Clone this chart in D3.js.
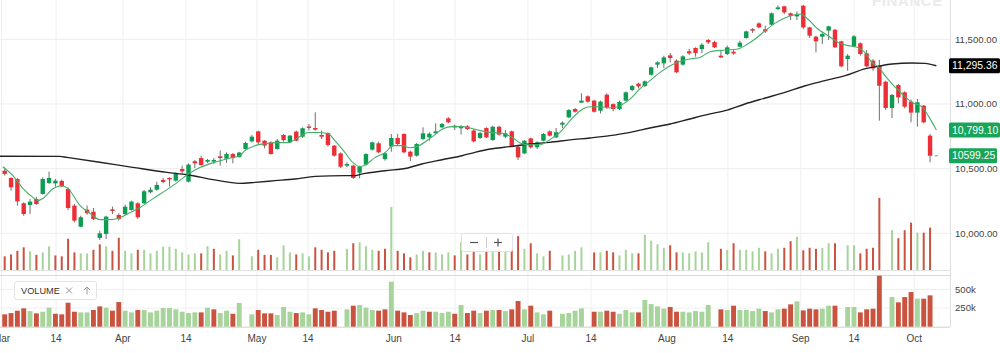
<!DOCTYPE html>
<html><head><meta charset="utf-8">
<script src="https://cdn.jsdelivr.net/npm/d3@7"></script>
<style>html,body{margin:0;padding:0;background:#fff;overflow:hidden}svg{display:block;font-family:"Liberation Sans",Arial,Helvetica,sans-serif}</style>
</head><body><svg id="c" width="1000" height="353"></svg>
<script>
// ---- data, one entry per trading slot ----
const open  = [10484,10428,10420,10232,10219,10265,10304,10389,10386,10405,10343,10214,10051,10183,10167,9964,9995,10185,10142,10149,10180,10232,10232,10317,10337,10412,10428,10407,10497,10399,10557,10582,10554,10554,10595,10577,10613,10590,10652,10711,10788,10716,10703,10652,10760,10703,10786,10747,10826,10814,10760,10775,10678,10618,10523,10523,10469,10531,10647,10696,10574,10672,10737,10768,10631,10600,10729,10742,10773,10819,10889,10832,10812,10827,10795,10737,10814,10721,10824,10747,10788,10670,10618,10734,10665,10716,10788,10742,10840,10897,10961,11010,11059,11026,10948,11072,10999,10961,11026,11108,11157,11139,11226,11304,11314,11376,11335,11304,11407,11433,11425,11494,11479,11373,11386,11404,11443,11510,11579,11623,11577,11613,11734,11755,11701,11677,11760,11592,11520,11520,11567,11574,11484,11348,11445,11469,11391,11335,11296,11172,10969,11146,11090,11018,10933,10987,10755];
const high  = [10510,10432,10428,10240,10265,10283,10433,10477,10420,10415,10356,10227,10136,10214,10196,10020,10136,10206,10155,10222,10252,10240,10335,10356,10399,10428,10433,10471,10523,10541,10567,10600,10575,10582,10639,10626,10621,10630,10708,10760,10794,10721,10711,10729,10768,10760,10794,10819,10845,10935,10794,10781,10683,10626,10549,10531,10523,10618,10708,10708,10626,10768,10768,10773,10639,10698,10819,10781,10850,10853,10897,10840,10837,10837,10806,10783,10820,10832,10830,10799,10795,10675,10721,10740,10711,10775,10795,10814,10866,10960,10968,11082,11067,11031,11026,11082,11005,11026,11097,11147,11165,11182,11288,11330,11373,11394,11345,11376,11427,11438,11469,11502,11489,11412,11451,11417,11489,11567,11587,11631,11605,11708,11762,11760,11708,11716,11765,11597,11528,11561,11605,11579,11489,11386,11533,11476,11417,11347,11340,11180,11077,11154,11098,11033,11038,10992,10768];
const low   = [10446,10330,10214,10136,10149,10221,10299,10381,10361,10356,10180,10085,10046,10144,10103,9948,9956,10149,10098,10142,10175,10111,10227,10309,10330,10386,10361,10399,10459,10394,10505,10523,10544,10536,10523,10544,10541,10585,10647,10703,10690,10657,10608,10647,10708,10698,10711,10737,10794,10794,10729,10670,10593,10505,10510,10420,10425,10523,10639,10618,10562,10631,10683,10618,10557,10593,10721,10716,10773,10812,10850,10799,10763,10799,10703,10730,10735,10716,10755,10737,10665,10567,10613,10655,10652,10711,10750,10737,10814,10890,10933,11007,11010,10933,10927,10961,10943,10953,11020,11098,11121,11131,11219,11278,11278,11322,11238,11296,11378,11366,11394,11464,11433,11355,11378,11381,11438,11505,11549,11585,11549,11605,11726,11695,11649,11649,11579,11510,11399,11463,11494,11433,11283,11257,11438,11373,11283,11257,10871,10953,10891,11005,10966,10858,10824,10850,10549];
const close = [10459,10356,10247,10149,10245,10226,10420,10428,10407,10363,10196,10098,10124,10155,10111,10000,10129,10173,10111,10206,10245,10124,10325,10337,10374,10397,10417,10459,10479,10531,10541,10528,10567,10567,10582,10613,10582,10624,10698,10747,10703,10678,10613,10716,10720,10755,10716,10812,10815,10801,10747,10683,10600,10515,10536,10428,10515,10613,10703,10626,10618,10737,10690,10626,10593,10690,10773,10770,10788,10845,10858,10819,10825,10806,10711,10776,10742,10824,10763,10773,10670,10587,10716,10665,10703,10768,10755,10781,10855,10953,10940,11026,11018,10940,11018,10974,10961,11015,11090,11139,11136,11175,11283,11322,11360,11355,11245,11368,11391,11394,11458,11476,11438,11360,11438,11391,11474,11561,11567,11592,11561,11701,11747,11708,11682,11695,11592,11528,11484,11541,11600,11438,11291,11373,11523,11386,11291,11275,11141,10969,11069,11051,10979,10933,11013,10858,10599.25];
// volume in thousands (null = no bar drawn)
const volume = [166,183,215,246,210,179,201,255,174,166,322,201,192,192,224,273,255,215,331,215,192,224,224,192,215,251,251,233,201,183,192,192,255,233,183,215,174,318,null,166,224,179,179,157,264,201,183,192,166,246,224,201,215,null,233,282,291,255,224,215,233,604,215,192,157,183,215,201,201,183,201,174,291,183,215,183,215,224,224,210,233,345,233,282,192,166,215,null,174,183,215,246,null,201,201,215,201,174,224,192,192,358,304,273,242,264,201,201,192,210,201,291,null,233,224,282,224,224,210,242,210,192,233,242,300,340,219,242,233,242,282,282,null,264,264,192,233,242,685,null,398,327,398,465,376,376,421];
// 1 = up (green) volume bar, 0 = down (red)
const volumeUp = [0,0,0,0,1,0,1,1,0,0,0,0,1,1,0,0,1,0,0,1,1,0,1,1,1,1,1,1,1,1,1,0,1,0,1,1,0,1,0,1,0,0,0,1,1,1,0,1,1,0,0,0,0,0,1,0,1,1,1,0,0,1,0,0,0,1,1,0,1,1,1,0,1,0,0,1,0,1,0,1,0,0,1,0,1,1,0,0,1,1,1,1,0,0,1,0,0,1,1,1,0,1,1,1,1,0,0,1,1,1,1,1,0,0,1,0,1,1,1,1,0,1,1,0,0,1,0,0,0,1,1,0,0,1,1,0,0,0,0,0,1,0,0,0,1,0,0];
// moving averages sampled along the drawn lines: [slot, value]
const maShort = [[-0.3,10515],[1.3,10446],[2.9,10345],[4.5,10276],[5.25,10253],[6.0,10268],[7.6,10345],[9.0,10368],[10.0,10345],[11.9,10214],[13.5,10152],[15.0,10106],[16.6,10106],[18.2,10121],[19.8,10160],[21.35,10199],[23.4,10268],[25.6,10338],[27.2,10392],[28.8,10453],[30.8,10508],[32.9,10546],[35.1,10577],[37.1,10601],[37.9,10639],[39.5,10678],[41.1,10693],[43.1,10701],[44.7,10701],[46.3,10740],[47.9,10779],[49.4,10779],[51.0,10771],[52.1,10716],[53.7,10623],[54.95,10546],[56.1,10515],[57.2,10538],[58.4,10585],[60.0,10623],[61.3,10678],[62.7,10678],[63.95,10662],[65.05,10670],[66.6,10716],[67.9,10763],[69.15,10809],[70.6,10825],[72.15,10825],[73.4,10814],[75.0,10794],[76.6,10780],[78.6,10773],[80.2,10737],[81.3,10699],[82.6,10685],[84.5,10685],[86.0,10724],[87.6,10780],[89.2,10871],[90.8,10948],[92.35,10979],[93.9,10979],[95.5,10969],[97.1,10987],[98.7,11039],[100.2,11116],[101.8,11180],[103.4,11244],[105.0,11296],[106.55,11329],[108.1,11348],[109.7,11360],[111.3,11404],[113.65,11417],[115.7,11425],[116.8,11451],[118.4,11502],[120.0,11567],[121.5,11623],[123.1,11665],[124.7,11690],[125.5,11696],[126.7,11657],[128.3,11580],[129.9,11528],[131.5,11476],[133.1,11451],[134.5,11438],[135.7,11399],[136.8,11322],[137.8,11288],[138.9,11219],[140.0,11155],[141.6,11077],[143.15,11012],[144.7,10979],[145.7,10910],[147,10799.10]];
const maLong = [[-0.75,10596],[8.7,10595],[9.8,10587],[15.0,10549],[20.2,10510],[25.6,10471],[28.8,10453],[32.9,10415],[37.1,10386],[39.5,10394],[42.65,10407],[45.8,10420],[49.0,10440],[53.7,10446],[55.3,10446],[56.4,10459],[60.0,10484],[63.6,10505],[65.8,10536],[69.0,10569],[72.15,10600],[74.2,10626],[76.6,10652],[79.7,10670],[82.9,10691],[86.0,10703],[89.2,10722],[92.35,10737],[95.5,10755],[98.7,10780],[101.8,10814],[105.0,10845],[108.1,10884],[111.3,10923],[113.65,10948],[116.8,11000],[120.0,11046],[123.1,11090],[126.3,11141],[129.4,11180],[132.6,11219],[135.7,11271],[137.8,11291],[140.0,11309],[143.15,11317],[145.2,11314],[147,11295.36]];
const tickLabels = ["Mar","14","Apr","14","May","14","Jun","14","Jul","14","Aug","14","Sep","14","Oct"];
const tickSlots  = [-0.5,8.1,18.65,28.6,39.8,47.85,61.4,71.05,82.55,92.5,104.5,114.1,125.6,134.0,143.5];
const priceTicks = [10000,10500,11000,11500];
const volumeTicks = [250,500];
const lastShort = 10799.10, lastLong = 11295.36, lastClose = 10599.25, markerSlot = 147;

// ---- drawing ----
const svg = d3.select('#c');
const plotR = 950;
const x = d3.scaleLinear().domain([0,146]).range([4.7,930.05]);
const y = d3.scaleLinear().domain([10000,11500]).range([233.3,39.3]);
const yVol = d3.scaleLinear().domain([0,700]).range([326.7,274.55]);
const yOv = d3.scaleLinear().domain([44.4,685]).range([270,197.9]);
const UP='#0c9d52', DOWN='#ee2e36', WICK='#6f6f6f';
const VUP='#a6d49b', VDN='#c9533f';
const slots = d3.range(open.length);
const vslots = slots.filter(i=>volume[i]!=null);

// grid
svg.append('g').selectAll('line').data(priceTicks).join('line')
  .attr('x1',0).attr('x2',plotR).attr('y1',d=>y(d)).attr('y2',d=>y(d))
  .attr('stroke','#ededed');
svg.append('g').selectAll('line').data(tickSlots).join('line')
  .attr('x1',d=>x(d)).attr('x2',d=>x(d)).attr('y1',0).attr('y2',327)
  .attr('stroke','#efefef');
svg.append('g').selectAll('line').data(volumeTicks).join('line')
  .attr('x1',0).attr('x2',plotR).attr('y1',d=>yVol(d)).attr('y2',d=>yVol(d))
  .attr('stroke','#efefef');
// pane borders
svg.append('line').attr('x1',0).attr('x2',plotR).attr('y1',270.5).attr('y2',270.5).attr('stroke','#e2e2e2');
svg.append('line').attr('x1',0).attr('x2',plotR).attr('y1',275.5).attr('y2',275.5).attr('stroke','#d3dbe3');
svg.append('line').attr('x1',0).attr('x2',plotR).attr('y1',327.2).attr('y2',327.2).attr('stroke','#cfcfcf');
svg.append('line').attr('x1',plotR+0.5).attr('x2',plotR+0.5).attr('y1',0).attr('y2',327).attr('stroke','#dedede');

// volume overlay in price pane
svg.append('g').selectAll('rect').data(vslots).join('rect')
  .attr('x',i=>x(i)-1).attr('width',2)
  .attr('y',i=>yOv(volume[i])).attr('height',i=>270-yOv(volume[i]))
  .attr('fill',i=>volumeUp[i]?VUP:VDN);
// volume pane
svg.append('g').selectAll('rect').data(vslots).join('rect')
  .attr('x',i=>x(i)-2.45).attr('width',4.9)
  .attr('y',i=>yVol(volume[i])).attr('height',i=>yVol(0)-yVol(volume[i]))
  .attr('fill',i=>volumeUp[i]?VUP:VDN);

// candles
svg.append('g').selectAll('line').data(slots).join('line')
  .attr('x1',i=>x(i)).attr('x2',i=>x(i)).attr('y1',i=>y(high[i])).attr('y2',i=>y(low[i]))
  .attr('stroke',WICK).attr('stroke-width',1);
svg.append('g').selectAll('rect').data(slots).join('rect')
  .attr('x',i=>x(i)-2.2).attr('width',4.4)
  .attr('y',i=>y(Math.max(open[i],close[i])))
  .attr('height',i=>Math.max(1.3,Math.abs(y(open[i])-y(close[i]))))
  .attr('fill',i=>close[i]>=open[i]?UP:DOWN);

// moving averages
const line = d3.line().x(d=>x(d[0])).y(d=>y(d[1])).curve(d3.curveMonotoneX);
svg.append('path').attr('d',line(maLong)).attr('fill','none').attr('stroke','#222').attr('stroke-width',1.4);
svg.append('path').attr('d',line(maShort)).attr('fill','none').attr('stroke','#43b06a').attr('stroke-width',1.1);
// last price marker
svg.append('line').attr('x1',x(markerSlot)-1.5).attr('x2',x(markerSlot)+1.5)
  .attr('y1',y(lastClose)).attr('y2',y(lastClose)).attr('stroke','#888').attr('stroke-width',1);

// watermark
svg.append('text').attr('x',872).attr('y',6).attr('font-size',15).attr('font-weight','bold')
  .attr('letter-spacing',0.6).attr('fill','#ebebeb').text('FINANCE');

// right axis
const fmt = d3.format(',.2f');
svg.append('g').selectAll('text').data(priceTicks).join('text')
  .attr('x',955).attr('y',d=>y(d)+3.4).attr('font-size',9.6).attr('fill','#444').text(d=>fmt(d));
svg.append('g').selectAll('text').data(volumeTicks).join('text')
  .attr('x',955).attr('y',d=>yVol(d)+3.4).attr('font-size',9.6).attr('fill','#444').text(d=>d+'k');

// price tags
const tags = [{v:lastLong,fill:'#000',label:fmt(lastLong),w:51},{v:lastShort,fill:'#18a558',label:fmt(lastShort),w:51},{v:lastClose,fill:'#18a558',label:d3.format('.2f')(lastClose),w:48}];
const tg = svg.append('g').selectAll('g').data(tags).join('g');
tg.append('rect').attr('x',949).attr('y',d=>y(d.v)-7.5).attr('width',d=>d.w).attr('height',15).attr('rx',1.5).attr('fill',d=>d.fill);
tg.append('text').attr('x',952).attr('y',d=>y(d.v)+3.7).attr('font-size',10.4).attr('fill','#fff').text(d=>d.label);

// x axis labels
svg.append('g').selectAll('text').data(tickSlots).join('text')
  .attr('x',d=>x(d)).attr('y',341.5).attr('text-anchor','middle').attr('font-size',10).attr('fill','#444')
  .text((d,i)=>tickLabels[i]);

// zoom control
const zc = svg.append('g');
zc.append('rect').attr('x',461.5).attr('y',233.5).attr('width',51).attr('height',18).attr('rx',2).attr('fill','#fff').attr('fill-opacity',0.92).attr('stroke','#e2e2e2');
zc.append('line').attr('x1',470).attr('x2',478).attr('y1',242.5).attr('y2',242.5).attr('stroke','#555').attr('stroke-width',1.2);
zc.append('line').attr('x1',486.5).attr('x2',486.5).attr('y1',237).attr('y2',248).attr('stroke','#ccc');
zc.append('line').attr('x1',494).attr('x2',502).attr('y1',242.5).attr('y2',242.5).attr('stroke','#555').attr('stroke-width',1.2);
zc.append('line').attr('x1',498).attr('x2',498).attr('y1',238.5).attr('y2',246.5).attr('stroke','#555').attr('stroke-width',1.2);

// volume legend
const lg = svg.append('g');
lg.append('rect').attr('x',14.5).attr('y',281.5).attr('width',82).attr('height',18).attr('rx',2.5).attr('fill','#fff').attr('stroke','#e4e4e4');
lg.append('text').attr('x',21).attr('y',294).attr('font-size',9.2).attr('font-weight',500).attr('fill','#333').text('VOLUME');
lg.append('path').attr('d','M66,287.5 L72,293.5 M72,287.5 L66,293.5').attr('stroke','#9a9a9a').attr('stroke-width',1);
lg.append('path').attr('d','M87,287 L87,294.5 M84,290 L87,287 L90,290').attr('stroke','#9a9a9a').attr('stroke-width',1).attr('fill','none');
</script></body></html>
